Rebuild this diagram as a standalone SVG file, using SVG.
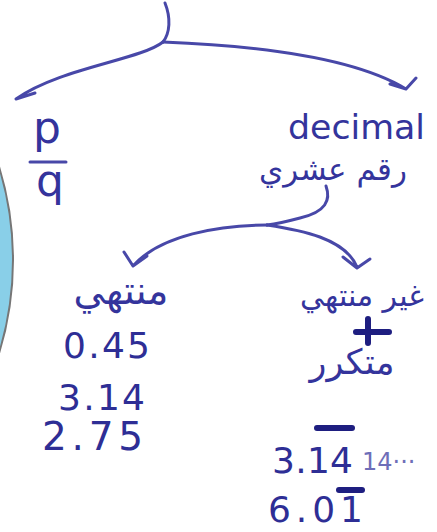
<svg xmlns="http://www.w3.org/2000/svg" width="437" height="532" viewBox="0 0 437 532">
<style>
.ink{fill:#34349c;font-family:"DejaVu Sans","Noto Sans",sans-serif}
.ar{font-family:"DejaVu Sans","Noto Sans",sans-serif;fill:#34349c}
.num{fill:#2e2e95;font-family:"DejaVu Sans","Noto Sans",sans-serif;font-size:36px}
.ln{fill:none;stroke:#4848a8;stroke-width:3;stroke-linecap:round;stroke-linejoin:round}
.bar{stroke:#1e1e80;stroke-width:6;stroke-linecap:round}
</style>
<rect width="437" height="532" fill="#ffffff"/>
<circle id="side-circle" cx="-305" cy="260" r="318" fill="#89cfe8" stroke="#767676" stroke-width="2"/>
<g id="connectors">
<path class="ln" d="M165,3 C171,18 170,33 163,42"/>
<path class="ln" d="M163,42 C140,60 60,68 16,99 M16,99 L35,93"/>
<path class="ln" d="M163,42 C240,45 350,55 406,89 M390,84 L406,89 L416,78"/>
<path class="ln" d="M326,186 C331,200 326,212 300,218 C285,222 275,224 267,225"/>
<path class="ln" d="M267,225 C220,225 160,235 133,266 M124,252 L133,266 L147,256"/>
<path class="ln" d="M267,225 C300,230 345,238 357,267 M343,257 L357,268 L370,259"/>
</g>
<g id="node-fraction">
<text class="ink" x="47" y="143" font-size="44" text-anchor="middle">p</text>
<path class="ln" d="M30,162 L66,162"/>
<text class="ink" x="50" y="196" font-size="44" text-anchor="middle">q</text>
</g>
<g id="node-decimal">
<text class="ink" x="288" y="139" font-size="34" textLength="137" lengthAdjust="spacingAndGlyphs">decimal</text>
<text class="ar" x="333" y="180" font-size="31" text-anchor="middle" direction="rtl">رقم عشري</text>
</g>
<g id="node-terminating">
<text class="ar" x="121" y="304" font-size="39" text-anchor="middle" direction="rtl">منتهي</text>
<text class="num" x="63" y="358" textLength="87" lengthAdjust="spacing">0.45</text>
<text class="num" x="58" y="410" textLength="87" lengthAdjust="spacing">3.14</text>
<text class="num" x="42" y="450" style="font-size:39px" textLength="101" lengthAdjust="spacing">2.75</text>
</g>
<g id="node-nonterminating">
<text class="ar" x="362" y="306" font-size="30" text-anchor="middle" direction="rtl">غير منتهي</text>
<path class="bar" d="M356,332 L389,332 M368,319 L368,343"/>
<text class="ar" x="352" y="374" font-size="35" text-anchor="middle" direction="rtl">متكرر</text>
<text class="num" x="272" y="473" textLength="81" lengthAdjust="spacing">3.14</text>
<path class="bar" d="M317,428 L352,428"/>
<text x="362" y="470" font-size="24" fill="#6e6eb8" font-family="DejaVu Sans,sans-serif">14···</text>
<text class="num" x="268" y="522" textLength="95" lengthAdjust="spacing">6.01</text>
<path class="bar" d="M339,490 L362,490"/>
</g>
</svg>
